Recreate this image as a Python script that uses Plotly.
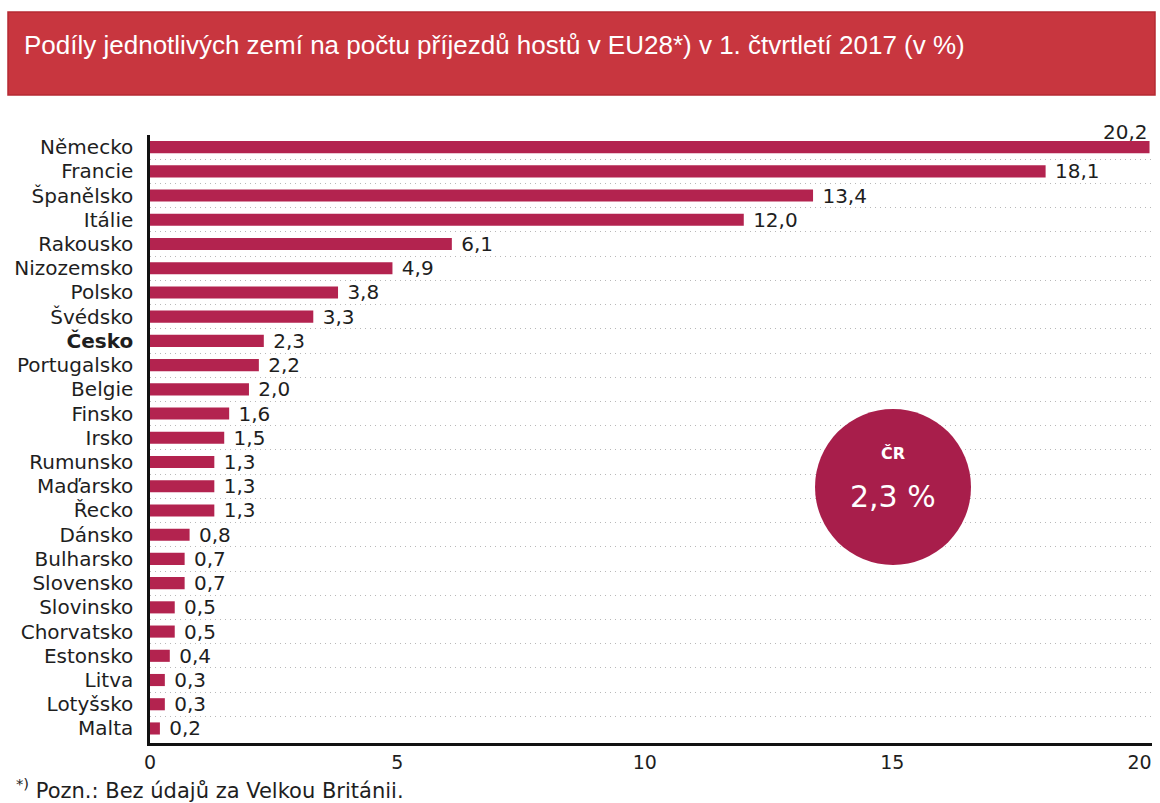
import plotly.graph_objects as go

countries = ["Německo", "Francie", "Španělsko", "Itálie", "Rakousko", "Nizozemsko", "Polsko",
             "Švédsko", "Česko", "Portugalsko", "Belgie", "Finsko", "Irsko", "Rumunsko",
             "Maďarsko", "Řecko", "Dánsko", "Bulharsko", "Slovensko", "Slovinsko",
             "Chorvatsko", "Estonsko", "Litva", "Lotyšsko", "Malta"]
shares = [20.2, 18.1, 13.4, 12.0, 6.1, 4.9, 3.8, 3.3, 2.3, 2.2, 2.0, 1.6, 1.5, 1.3, 1.3, 1.3,
          0.8, 0.7, 0.7, 0.5, 0.5, 0.4, 0.3, 0.3, 0.2]
x_ticks = [0, 5, 10, 15, 20]
title = "Podíly jednotlivých zemí na počtu příjezdů hostů v EU28*) v 1. čtvrtletí 2017 (v %)"
footnote = "<sup>*)</sup> Pozn.: Bez údajů za Velkou Británii."
cz_label = "ČR"
cz_value = "2,3 %"

W, H = 1160, 803
L, R, T, B = 150, 8, 135, 60
pw, ph = W - L - R, H - T - B

def px(xp):
    return (xp - L) / pw

def py(yp):
    return 1 - (yp - T) / ph

fmt = lambda v: f"{v:.1f}".replace(".", ",")
idx = list(range(len(countries)))
labels = [" " + fmt(v) for v in shares]
textpos = ["none"] + ["outside"] * (len(shares) - 1)
ticktext = [f"<b>{c}</b>" if c == "Česko" else c for c in countries]

BAR = "#b3234f"
TXT = "#1e1e1e"
fig = go.Figure()
fig.add_trace(go.Bar(
    x=shares, y=idx, orientation="h", marker=dict(color=BAR, line=dict(width=0)),
    width=0.5, text=labels, textposition=textpos, cliponaxis=False, constraintext="none",
    textfont=dict(family="DejaVu Sans", size=20, color=TXT),
    hoverinfo="skip"))

fig.add_annotation(x=shares[0], y=0, xref="x", yref="y", text=fmt(shares[0]),
                   showarrow=False, xanchor="right", yanchor="bottom", yshift=1,
                   font=dict(family="DejaVu Sans", size=20, color=TXT))

# title banner
fig.add_shape(type="rect", xref="paper", yref="paper", x0=px(8), x1=px(1155), y0=py(95), y1=py(12),
              fillcolor="#c8363f", line=dict(color="#b52a33", width=1.5), layer="below")
fig.add_annotation(xref="paper", yref="paper", x=px(22), y=py(45), text=title, showarrow=False,
                   xanchor="left", yanchor="middle",
                   font=dict(family="Liberation Sans", size=26, color="white"))

# circle
cx, cy, r = 893, 487, 78
fig.add_shape(type="circle", xref="paper", yref="paper",
              x0=px(cx - r), x1=px(cx + r), y0=py(cy + r), y1=py(cy - r),
              fillcolor="#a81e4b", line=dict(color="#a81e4b", width=0))
fig.add_annotation(xref="paper", yref="paper", x=px(cx), y=py(453), text=f"<b>{cz_label}</b>",
                   showarrow=False, xanchor="center", yanchor="middle",
                   font=dict(family="DejaVu Sans", size=16, color="white"))
fig.add_annotation(xref="paper", yref="paper", x=px(cx), y=py(496), text=cz_value,
                   showarrow=False, xanchor="center", yanchor="middle",
                   font=dict(family="DejaVu Sans", size=30, color="white"))

# footnote
fig.add_annotation(xref="paper", yref="paper", x=px(14), y=py(789), text=footnote,
                   showarrow=False, xanchor="left", yanchor="middle",
                   font=dict(family="DejaVu Sans", size=21, color=TXT))

fig.update_layout(
    width=W, height=H, margin=dict(l=L, r=R, t=T, b=B),
    paper_bgcolor="white", plot_bgcolor="white", showlegend=False, bargap=0.5,
    xaxis=dict(range=[0, 20.25], tickvals=x_ticks, ticktext=[str(t) for t in x_ticks],
               showgrid=False, zeroline=False, showline=True, linecolor="#111", linewidth=2.5,
               ticks="", tickfont=dict(family="DejaVu Sans", size=19, color=TXT)),
    yaxis=dict(range=[len(countries) - 0.5 + 0.1, -0.5], tickvals=idx, ticktext=ticktext,
               showgrid=False, zeroline=False, showline=True, linecolor="#111", linewidth=2.5,
               ticks="", ticklabelstandoff=10,
               tickfont=dict(family="DejaVu Sans", size=20, color=TXT),
               minor=dict(tickvals=[i + 0.5 for i in idx[:-1]] + [-0.5], showgrid=True,
                          griddash="1px,4px", gridcolor="#b8b8b8", gridwidth=1, ticks="")),
)

fig.write_html("out.html")
